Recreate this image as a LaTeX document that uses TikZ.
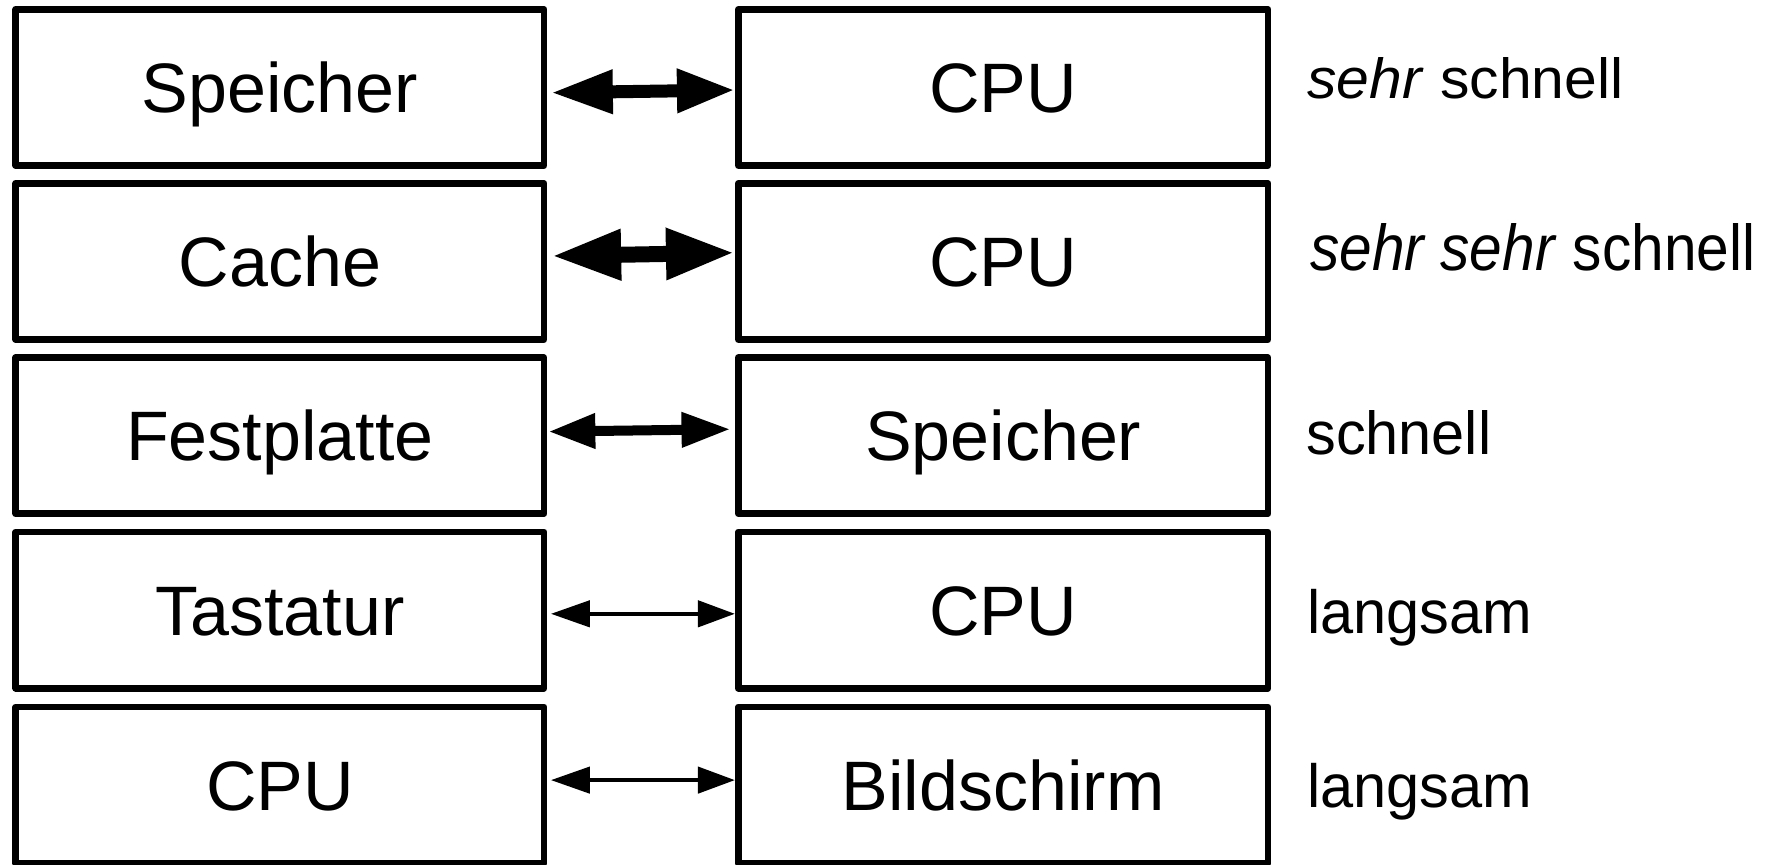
\documentclass[tikz,border=0pt]{standalone}
\usepackage{fontspec}
\usepackage{graphicx}
\setmainfont{Liberation Sans}
\usetikzlibrary{arrows.meta}
\begin{document}
\begin{tikzpicture}[x=0.5pt,y=-0.5pt,
  box/.style={draw,line width=3.35pt,line join=round,minimum height=78.1pt,inner sep=0pt,
    font=\fontsize{35}{42}\selectfont,text height=25.06pt,text depth=0pt},
  lbox/.style={box,minimum width=264.1pt},
  rbox/.style={box,minimum width=264.85pt},
  lab/.style={anchor=base west,inner sep=0pt,font=\fontsize{31}{37}\selectfont},
  arA/.style={line width=6.5pt,{Triangle[length=31pt,width=20.5pt]}-{Triangle[length=29pt,width=20.5pt]}},
  arB/.style={line width=8pt,{Triangle[length=35pt,width=23.5pt]}-{Triangle[length=34.5pt,width=23.8pt]}},
  arC/.style={line width=5pt,{Triangle[length=23.5pt,width=16.5pt]}-{Triangle[length=24.5pt,width=16.5pt]}},
  arD/.style={line width=2.2pt,{Triangle[length=19.5pt,width=13pt]}-{Triangle[length=18.5pt,width=13pt]}}]
\useasboundingbox (0,0) rectangle (1769,864);
% boxes
\node[lbox] (L1) at (279.9,87.4) {Speicher};
\node[rbox] (R1) at (1003.15,87.4) {CPU};
\node[lbox] (L2) at (279.9,261.4) {Cache};
\node[rbox] (R2) at (1003.15,261.4) {CPU};
\node[lbox] (L3) at (279.9,435.7) {Festplatte};
\node[rbox] (R3) at (1003.15,435.7) {Speicher};
\node[lbox] (L4) at (279.9,610.1) {Tastatur};
\node[rbox] (R4) at (1003.15,610.1) {CPU};
\node[lbox] (L5) at (279.9,785.1) {CPU};
\node[rbox] (R5) at (1003.15,785.1) {Bildschirm};
% connectors
\draw[arA] ([xshift=1.75pt,yshift=-2.65pt]L1.east) -- ([yshift=-1.3pt]R1.west);
\draw[arB] ([xshift=1.9pt,yshift=2.7pt]L2.east) -- ([yshift=4.35pt]R2.west);
\draw[arC] ([xshift=0.5pt,yshift=2.05pt]L3.east) -- ([xshift=-2.2pt,yshift=3.25pt]R3.west);
\draw[arD] ([xshift=1.75pt,yshift=-1.85pt]L4.east) -- ([yshift=-1.85pt]R4.west);
\draw[arD] ([xshift=1.75pt,yshift=2.5pt]L5.east) -- ([yshift=2.5pt]R5.west);
% labels
\node[lab] (T1) at (1307,98.3) {\resizebox{158pt}{20.5pt}{\textit{sehr} schnell}};
\node[lab] (T2) at (1310,270.7) {\resizebox{222.5pt}{23.5pt}{\textit{sehr sehr} schnell}};
\node[lab] (T3) at (1306,454) {\resizebox{92.5pt}{22pt}{schnell}};
\node[lab] (T4) at (1307,633.3) {\resizebox{112.5pt}{22.1pt}{langsam}};
\node[lab] (T5) at (1307,807.5) {\resizebox{112.5pt}{22.1pt}{langsam}};
\end{tikzpicture}
\end{document}
